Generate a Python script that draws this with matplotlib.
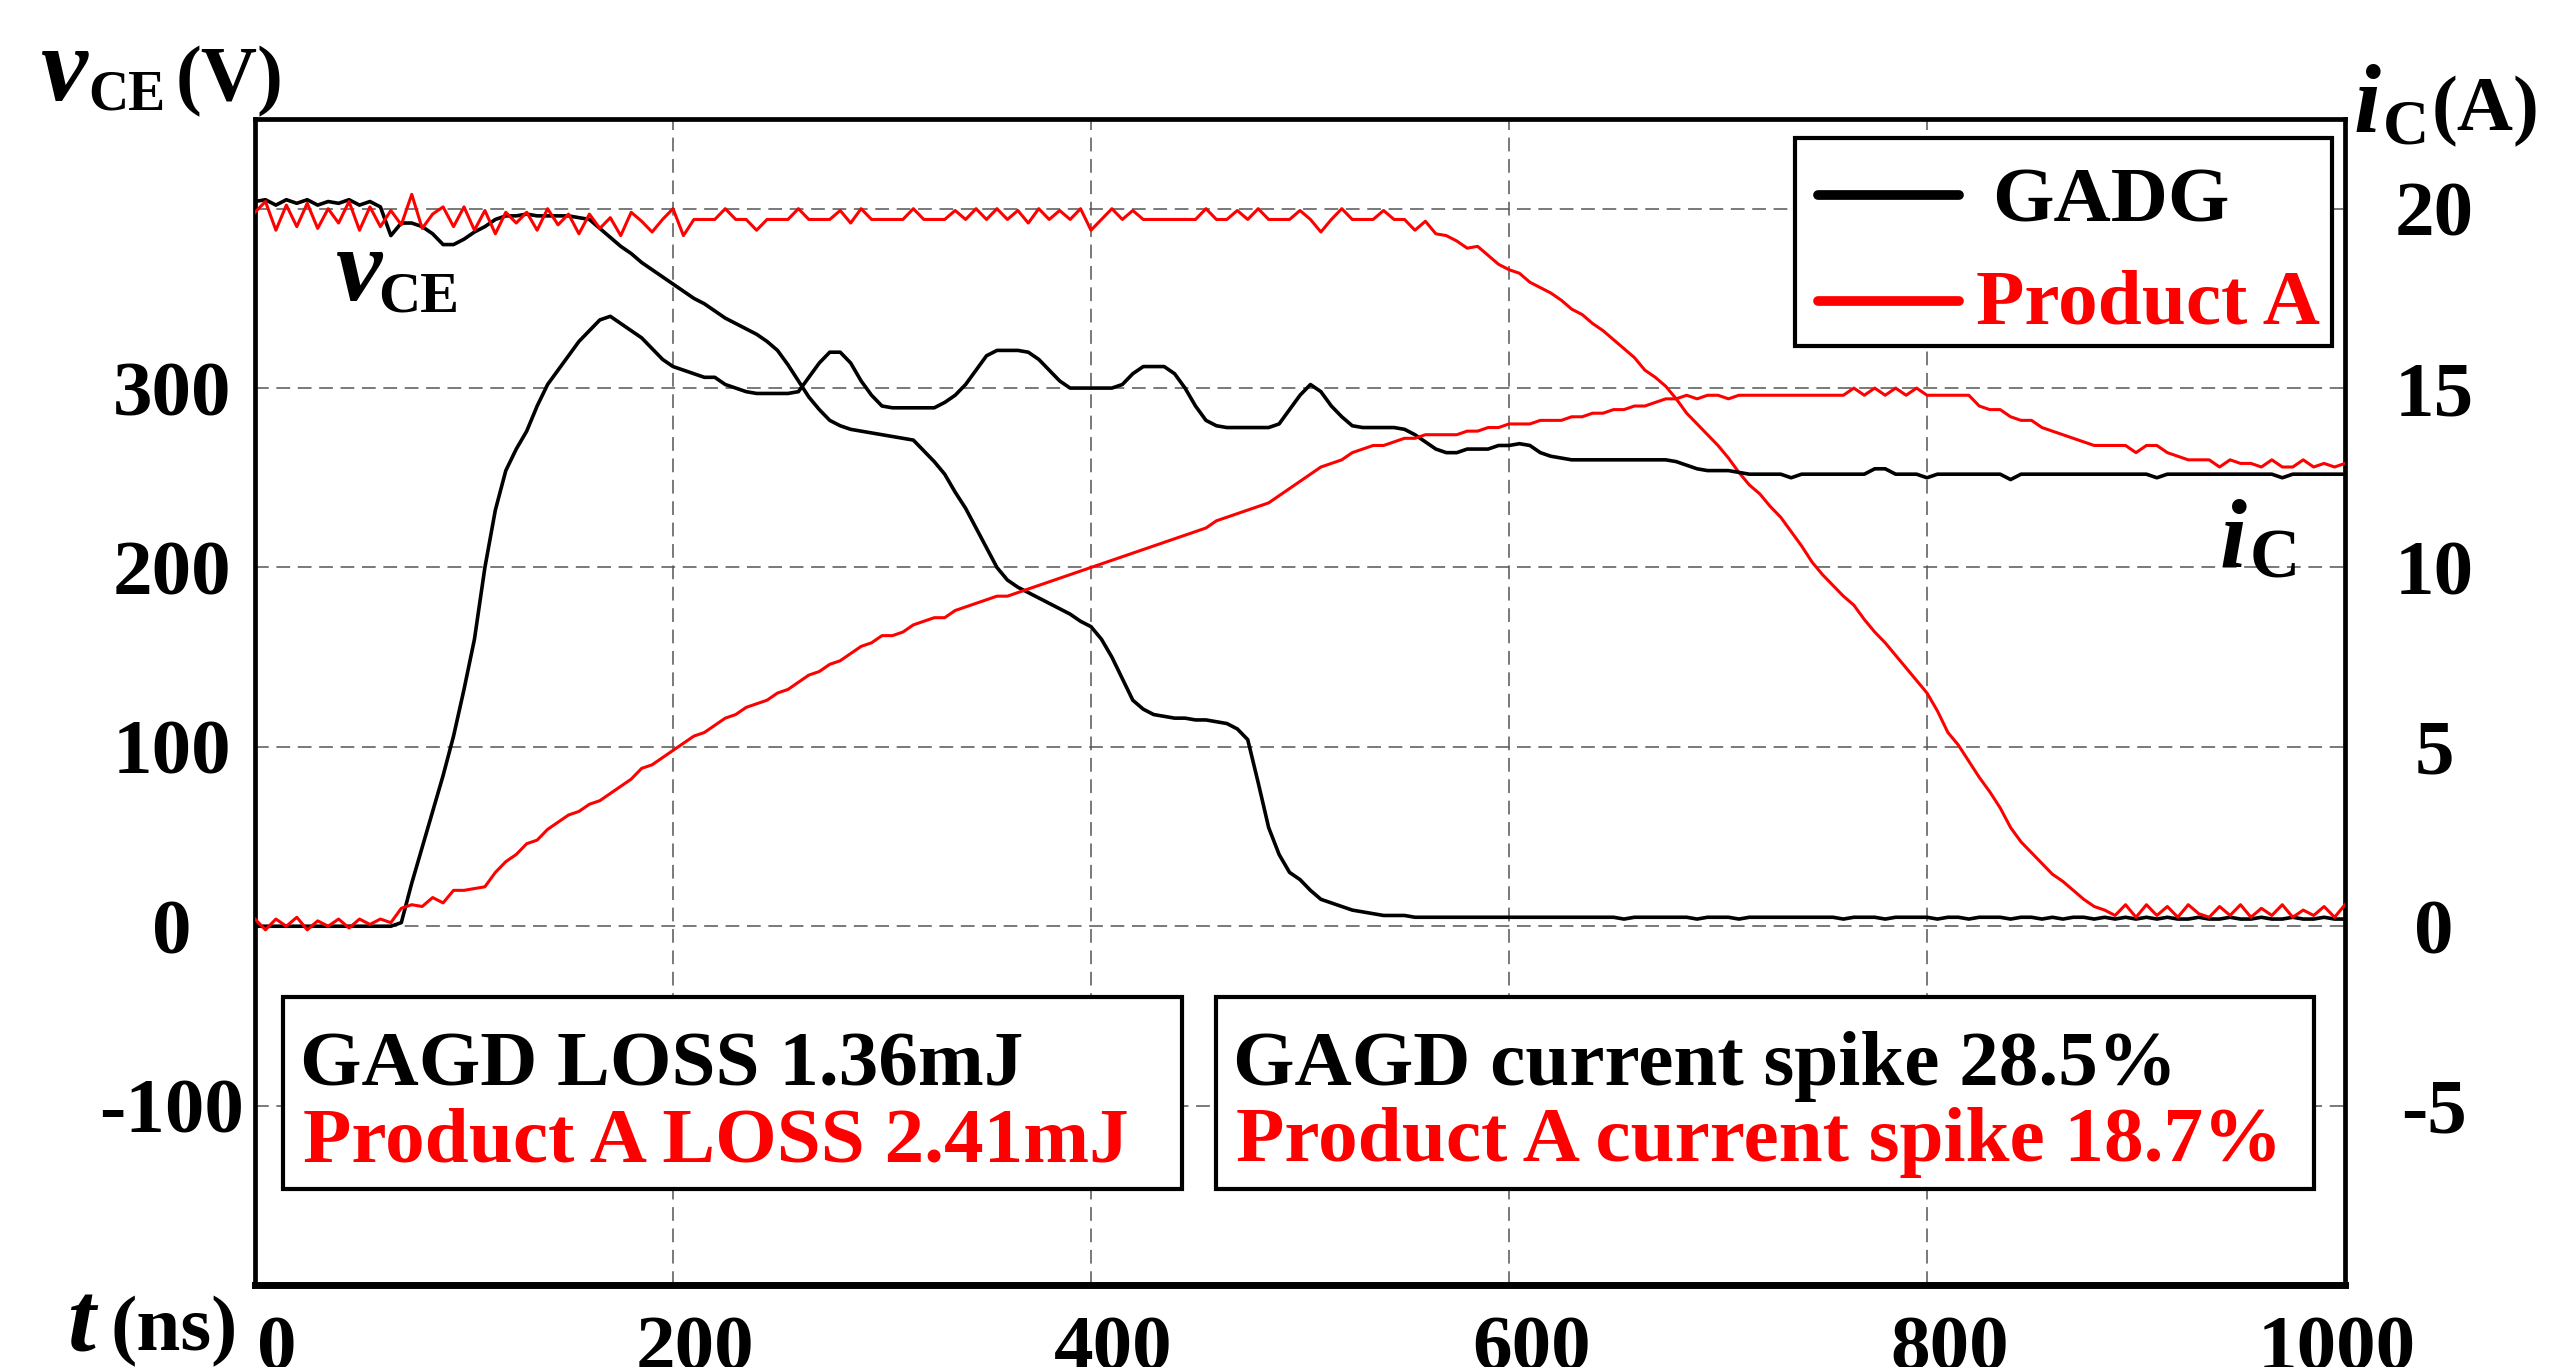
import numpy as np
import matplotlib.pyplot as plt
import matplotlib.transforms as mtransforms
from matplotlib.patches import Rectangle
from matplotlib.lines import Line2D

# turn-on waveforms, one sample every 5 ns
t_ns = np.arange(0, 1001, 5)

gadg_vce = [
    404, 405, 402, 405, 403, 405, 402, 404, 403, 405,   # 0
    402, 404, 401, 385, 392, 392, 390, 386, 380, 380,   # 50
    383, 387, 390, 394, 396, 396, 397, 396, 396, 396,   # 100
    396, 395, 394, 389, 384, 379, 375, 370, 366, 362,   # 150
    358, 354, 350, 347, 343, 339, 336, 333, 330, 326,   # 200
    321, 313, 304, 295, 288, 282, 279, 277, 276, 275,   # 250
    274, 273, 272, 271, 265, 259, 252, 242, 233, 222,   # 300
    211, 200, 193, 189, 186, 183, 180, 177, 174, 170,   # 350
    167, 160, 150, 138, 126, 121, 118, 117, 116, 116,   # 400
    115, 115, 114, 113, 110, 104, 80, 55, 40, 30,       # 450
    26, 20, 15, 13, 11, 9, 8, 7, 6, 6,                  # 500
    6, 5, 5, 5, 5, 5, 5, 5, 5, 5,                       # 550
    5, 5, 5, 5, 5, 5, 5, 5, 5, 5,                       # 600
    5, 4, 5, 5, 5, 5, 5, 5, 4, 5,                       # 650
    5, 5, 4, 5, 5, 5, 5, 5, 5, 5,                       # 700
    5, 5, 4, 5, 5, 5, 4, 5, 5, 5,                       # 750
    5, 4, 5, 5, 4, 5, 5, 5, 4, 5,                       # 800
    5, 4, 5, 4, 5, 5, 4, 5, 4, 5,                       # 850
    4, 5, 4, 5, 4, 4, 5, 4, 4, 5,                       # 900
    4, 4, 5, 4, 4, 5, 4, 4, 5, 4,                       # 950
    4,
]

gadg_ic = [
    0, 0, 0, 0, 0, 0, 0, 0, 0, 0,                                        # 0
    0, 0, 0, 0, 0.1, 1.2, 2.2, 3.2, 4.2, 5.3,                            # 50
    6.6, 8.0, 10.0, 11.6, 12.7, 13.3, 13.8, 14.5, 15.1, 15.5,            # 100
    15.9, 16.3, 16.6, 16.9, 17.0, 16.8, 16.6, 16.4, 16.1, 15.8,          # 150
    15.6, 15.5, 15.4, 15.3, 15.3, 15.1, 15.0, 14.9, 14.85, 14.85,        # 200
    14.85, 14.85, 14.9, 15.3, 15.7, 16.0, 16.0, 15.7, 15.2, 14.8,        # 250
    14.5, 14.45, 14.45, 14.45, 14.45, 14.45, 14.6, 14.8, 15.1, 15.5,     # 300
    15.9, 16.05, 16.05, 16.05, 16.0, 15.8, 15.5, 15.2, 15.0, 15.0,       # 350
    15.0, 15.0, 15.0, 15.1, 15.4, 15.6, 15.6, 15.6, 15.4, 15.0,          # 400
    14.5, 14.1, 13.95, 13.9, 13.9, 13.9, 13.9, 13.9, 14.0, 14.4,         # 450
    14.8, 15.1, 14.9, 14.5, 14.2, 13.95, 13.9, 13.9, 13.9, 13.9,         # 500
    13.85, 13.7, 13.5, 13.3, 13.2, 13.2, 13.3, 13.3, 13.3, 13.4,         # 550
    13.4, 13.45, 13.4, 13.2, 13.1, 13.05, 13.0, 13.0, 13.0, 13.0,        # 600
    13.0, 13.0, 13.0, 13.0, 13.0, 13.0, 12.95, 12.85, 12.75, 12.7,       # 650
    12.7, 12.7, 12.65, 12.6, 12.6, 12.6, 12.6, 12.5, 12.6, 12.6,         # 700
    12.6, 12.6, 12.6, 12.6, 12.6, 12.75, 12.75, 12.6, 12.6, 12.6,        # 750
    12.5, 12.6, 12.6, 12.6, 12.6, 12.6, 12.6, 12.6, 12.45, 12.6,         # 800
    12.6, 12.6, 12.6, 12.6, 12.6, 12.6, 12.6, 12.6, 12.6, 12.6,          # 850
    12.6, 12.6, 12.5, 12.6, 12.6, 12.6, 12.6, 12.6, 12.6, 12.6,          # 900
    12.6, 12.6, 12.6, 12.6, 12.5, 12.6, 12.6, 12.6, 12.6, 12.6,          # 950
    12.6,
]

prod_a_vce = [
    398, 404, 388, 402, 390, 403, 389, 400, 392, 404,   # 0
    388, 401, 390, 399, 391, 408, 389, 397, 401, 390,   # 50
    401, 388, 399, 386, 398, 392, 398, 388, 400, 391,   # 100
    397, 386, 397, 389, 395, 385, 398, 393, 387, 394,   # 150
    400, 385, 394, 394, 394, 400, 394, 394, 388, 394,   # 200
    394, 394, 400, 394, 394, 394, 399, 392, 400, 394,   # 250
    394, 394, 394, 400, 394, 394, 394, 399, 394, 400,   # 300
    394, 400, 394, 399, 392, 400, 394, 399, 394, 400,   # 350
    388, 394, 400, 394, 399, 394, 394, 394, 394, 394,   # 400
    394, 400, 394, 394, 399, 394, 400, 394, 394, 394,   # 450
    399, 394, 387, 394, 400, 394, 394, 394, 399, 394,   # 500
    394, 388, 393, 386, 385, 382, 378, 379, 374, 369,   # 550
    366, 364, 359, 356, 353, 349, 344, 341, 336, 332,   # 600
    327, 322, 317, 310, 306, 301, 294, 286, 280, 274,   # 650
    268, 261, 253, 246, 241, 234, 228, 220, 212, 203,   # 700
    196, 190, 184, 179, 171, 164, 158, 151, 144, 137,   # 750
    130, 120, 108, 101, 92, 83, 75, 66, 55, 47,         # 800
    41, 35, 29, 25, 20, 15, 11, 9, 6, 12,               # 850
    5, 12, 6, 11, 5, 12, 7, 5, 11, 6,                   # 900
    12, 5, 10, 6, 12, 5, 9, 6, 11, 5,                   # 950
    12,
]

prod_a_ic = [
    0.2, -0.1, 0.2, 0.0, 0.25, -0.1, 0.15, 0.0, 0.2, -0.05,      # 0
    0.2, 0.05, 0.2, 0.1, 0.5, 0.6, 0.55, 0.8, 0.65, 1.0,          # 50
    1.0, 1.05, 1.1, 1.5, 1.8, 2.0, 2.3, 2.4, 2.7, 2.9,            # 100
    3.1, 3.2, 3.4, 3.5, 3.7, 3.9, 4.1, 4.4, 4.5, 4.7,             # 150
    4.9, 5.1, 5.3, 5.4, 5.6, 5.8, 5.9, 6.1, 6.2, 6.3,             # 200
    6.5, 6.6, 6.8, 7.0, 7.1, 7.3, 7.4, 7.6, 7.8, 7.9,             # 250
    8.1, 8.1, 8.2, 8.4, 8.5, 8.6, 8.6, 8.8, 8.9, 9.0,             # 300
    9.1, 9.2, 9.2, 9.3, 9.4, 9.5, 9.6, 9.7, 9.8, 9.9,             # 350
    10.0, 10.1, 10.2, 10.3, 10.4, 10.5, 10.6, 10.7, 10.8, 10.9,   # 400
    11.0, 11.1, 11.3, 11.4, 11.5, 11.6, 11.7, 11.8, 12.0, 12.2,   # 450
    12.4, 12.6, 12.8, 12.9, 13.0, 13.2, 13.3, 13.4, 13.4, 13.5,   # 500
    13.6, 13.6, 13.7, 13.7, 13.7, 13.7, 13.8, 13.8, 13.9, 13.9,   # 550
    14.0, 14.0, 14.0, 14.1, 14.1, 14.1, 14.2, 14.2, 14.3, 14.3,   # 600
    14.4, 14.4, 14.5, 14.5, 14.6, 14.7, 14.7, 14.8, 14.7, 14.8,   # 650
    14.8, 14.7, 14.8, 14.8, 14.8, 14.8, 14.8, 14.8, 14.8, 14.8,   # 700
    14.8, 14.8, 14.8, 15.0, 14.8, 15.0, 14.8, 15.0, 14.8, 15.0,   # 750
    14.8, 14.8, 14.8, 14.8, 14.8, 14.5, 14.4, 14.4, 14.2, 14.1,   # 800
    14.1, 13.9, 13.8, 13.7, 13.6, 13.5, 13.4, 13.4, 13.4, 13.4,   # 850
    13.2, 13.4, 13.4, 13.2, 13.1, 13.0, 13.0, 13.0, 12.8, 13.0,   # 900
    12.9, 12.9, 12.8, 13.0, 12.8, 12.8, 13.0, 12.8, 12.9, 12.8,   # 950
    12.9,
]

t_ticks = [0, 200, 400, 600, 800, 1000]
vce_ticks = [-100, 0, 100, 200, 300, 400]
vce_labels = ['-100', '0', '100', '200', '300', '']
ic_ticks = [-5, 0, 5, 10, 15, 20]
ic_labels = ['-5', '0', '5', '10', '15', '20']

series_names = ['GADG', 'Product A']
loss_lines = ['GAGD LOSS 1.36mJ', 'Product A LOSS 2.41mJ']
spike_lines = ['GAGD current spike 28.5%', 'Product A current spike 18.7%']

RED = '#ff0000'
SERIF = 'Liberation Serif'
FS = 57

plt.rcParams['font.family'] = SERIF
plt.rcParams['font.weight'] = 'bold'

W, H = 2550, 1367
fig = plt.figure(figsize=(W / 100, H / 100), dpi=100)


def fx(x):
    return x / W


def fy(y):
    return 1 - y / H


ax = fig.add_axes([fx(255), fy(1285), (2345 - 255) / W, (1285 - 119) / H])
ax2 = ax.twinx()

# voltages on the left scale, currents on the right one
ax.plot(t_ns, gadg_vce, color='black', linewidth=2.6, zorder=3)
ax.plot(t_ns, prod_a_vce, color=RED, linewidth=2.2, zorder=4)
ax2.plot(t_ns, gadg_ic, color='black', linewidth=2.6, zorder=3)
ax2.plot(t_ns, prod_a_ic, color=RED, linewidth=2.2, zorder=4)

ax.set_xlim(0, 1000)
ax.set_ylim(-200, 450)
ax2.set_ylim(-10, 22.5)

ax.set_xticks(t_ticks, [str(v) for v in t_ticks], fontsize=FS, fontweight='bold')
ax.set_yticks(vce_ticks, vce_labels, fontsize=FS, fontweight='bold', ha='center')
ax2.set_yticks(ic_ticks, ic_labels, fontsize=FS, fontweight='bold', ha='center')
ax.tick_params(axis='x', length=0, pad=22)
ax.tick_params(axis='y', length=0, pad=60)
ax2.tick_params(axis='y', length=0, pad=64)

# the x numbers sit a little right of their grid lines, the last one a bit left
for lab, shift in zip(ax.get_xticklabels(), [16, 16, 16, 16, 16, -6]):
    lab.set_transform(lab.get_transform() +
                      mtransforms.ScaledTranslation(shift / 72, 0, fig.dpi_scale_trans))

ax.grid(True, color='#555555', linestyle=(0, (9, 5)), linewidth=1.1)
ax.set_axisbelow(True)

for side in ['left', 'right', 'top']:
    ax.spines[side].set_linewidth(3.4)
ax.spines['bottom'].set_linewidth(5)
for side in ax2.spines:
    ax2.spines[side].set_visible(False)

# axis names
fig.text(fx(40), fy(100), 'v', fontsize=76, style='italic', fontweight='bold', va='baseline')
fig.text(fx(88), fy(110), 'CE', fontsize=40, fontweight='bold', va='baseline')
fig.text(fx(176), fy(100), '(V)', fontsize=56, fontweight='bold', va='baseline')

fig.text(fx(2354), fy(132), 'i', fontsize=70, style='italic', fontweight='bold', va='baseline')
fig.text(fx(2383), fy(143), 'C', fontsize=46, fontweight='bold', va='baseline')
fig.text(fx(2432), fy(130), '(A)', fontsize=56, fontweight='bold', va='baseline')

fig.text(fx(68), fy(1352), 't', fontsize=72, style='italic', fontweight='bold', va='baseline')
fig.text(fx(110), fy(1350), '(ns)', fontsize=57, fontweight='bold', va='baseline')

# curve names inside the plot
fig.text(fx(335), fy(300), 'v', fontsize=75, style='italic', fontweight='bold', va='baseline')
fig.text(fx(378), fy(311), 'CE', fontsize=42, fontweight='bold', va='baseline')
fig.text(fx(2220), fy(567), 'i', fontsize=70, style='italic', fontweight='bold', va='baseline')
fig.text(fx(2250), fy(577), 'C', fontsize=50, fontweight='bold', va='baseline')

# legend box
fig.add_artist(Rectangle((fx(1795), fy(346)), (2332 - 1795) / W, (346 - 138) / H,
                         facecolor='white', edgecolor='black', linewidth=3, zorder=5))
for y_line, y_text, x_text, name, col in [(195, 222, 1992, series_names[0], 'black'),
                                          (301, 323, 1976, series_names[1], RED)]:
    fig.add_artist(Line2D([fx(1818), fx(1959)], [fy(y_line), fy(y_line)], color=col,
                          linewidth=7, solid_capstyle='round', zorder=6))
    fig.text(fx(x_text), fy(y_text), name, fontsize=FS, fontweight='bold', color=col,
             va='baseline', zorder=6)

# loss and spike boxes
for x0, x1, lines in [(283, 1182, loss_lines), (1216, 2314, spike_lines)]:
    fig.add_artist(Rectangle((fx(x0), fy(1189)), (x1 - x0) / W, (1189 - 997) / H,
                             facecolor='white', edgecolor='black', linewidth=3, zorder=5))
    fig.text(fx(x0 + 17), fy(1085), lines[0], fontsize=FS, fontweight='bold',
             color='black', va='baseline', zorder=6)
    fig.text(fx(x0 + 20), fy(1161), lines[1], fontsize=FS, fontweight='bold',
             color=RED, va='baseline', zorder=6)

fig.savefig('out.png', dpi=100)
